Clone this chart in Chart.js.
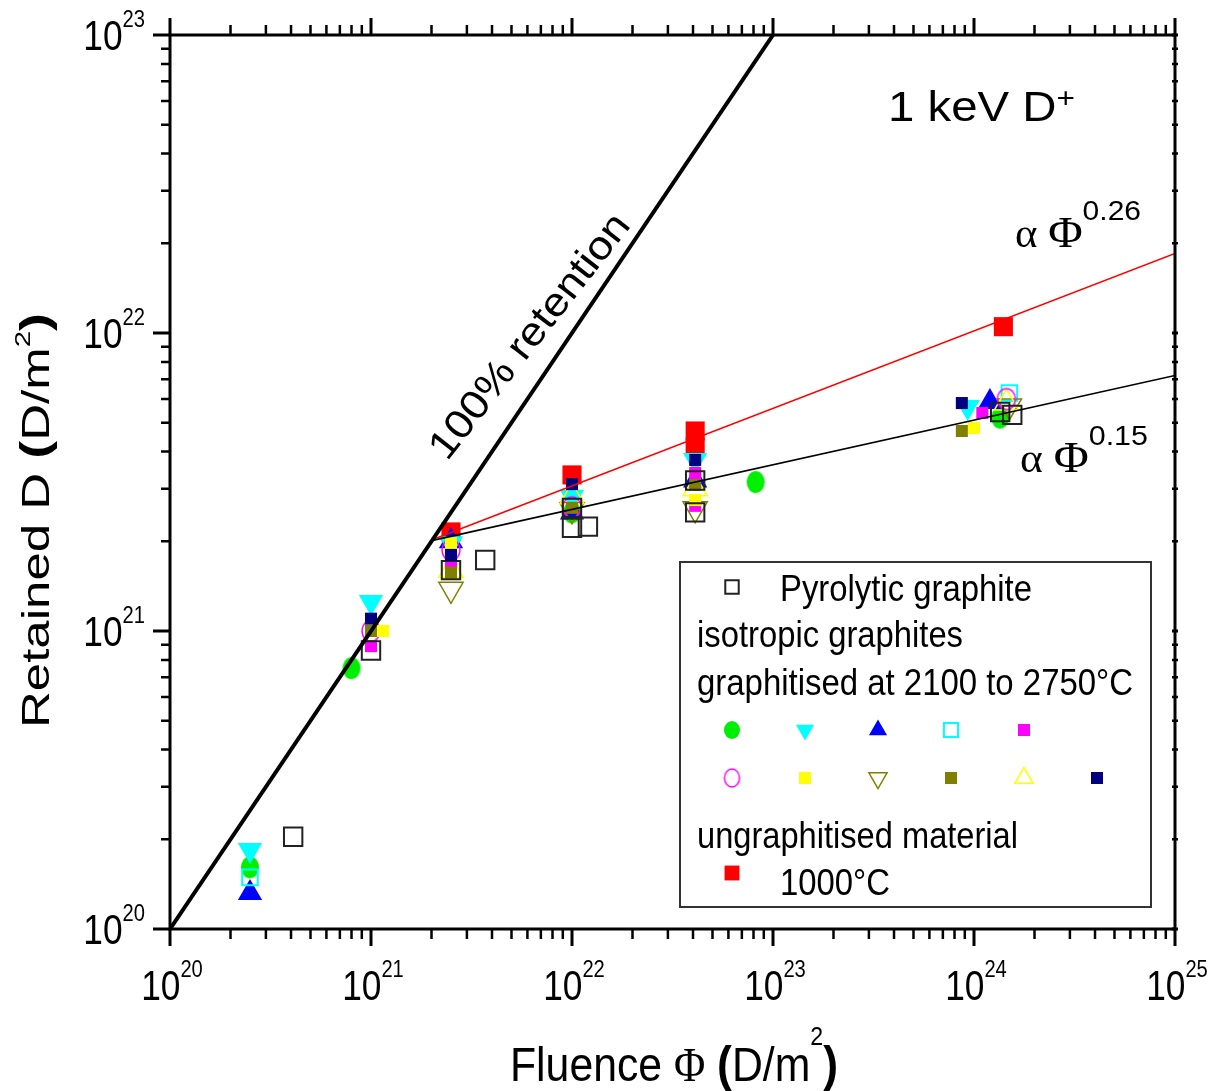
<!DOCTYPE html>
<html>
<head>
<meta charset="utf-8">
<script src="https://cdn.jsdelivr.net/npm/chart.js@4.4.1/dist/chart.umd.min.js"></script>
<style>
  html, body { margin: 0; padding: 0; background: #fff; }
  canvas { display: block; }
</style>
</head>
<body>
<canvas id="chart" width="1209" height="1091"></canvas>
<script>
// ---- axis decades (tick labels are 10^exponent) ----
const xTickExponents = [20, 21, 22, 23, 24, 25];
const yTickExponents = [20, 21, 22, 23];

// ---- measured retention, [fluence D/m^2, retained D/m^2] ----
const pyrolyticGraphite = [[4.1e20, 2.04e20], [1.0e21, 8.6e20], [2.5e21, 1.6e21], [3.7e21, 1.73e21],
  [1.0e22, 2.59e21], [1.0e22, 2.22e21], [1.2e22, 2.24e21], [4.1e22, 3.2e21], [4.1e22, 2.5e21],
  [1.35e24, 5.43e21], [1.55e24, 5.31e21]];
const isoGreenCircle = [[2.5e20, 1.61e20], [8.0e20, 7.5e20], [1.0e22, 2.5e21], [8.2e22, 3.16e21], [1.35e24, 5.2e21]];
const isoCyanDown = [[2.5e20, 1.84e20], [1.0e21, 1.25e21], [2.5e21, 1.97e21], [1.0e22, 2.82e21], [4.1e22, 3.75e21], [9.3e23, 5.65e21]];
const isoBlueUp = [[2.5e20, 1.32e20], [2.5e21, 2.0e21], [1.0e22, 2.5e21], [4.1e22, 3.2e21], [1.2e24, 5.87e21]];
const isoCyanSquare = [[2.5e20, 1.49e20], [1.5e24, 6.29e21]];
const isoMagentaSquare = [[1.0e21, 8.9e20], [2.5e21, 1.69e21], [4.1e22, 3.39e21], [4.1e22, 2.63e21], [1.1e24, 5.39e21]];
const isoMagentaCircle = [[1.0e21, 1.0e21], [2.5e21, 1.87e21], [1.0e22, 2.6e21], [1.45e24, 6.0e21]];
const isoYellowSquare = [[1.15e21, 1.0e21], [2.5e21, 1.97e21], [4.1e22, 2.75e21], [1.0e24, 4.8e21]];
const isoOliveDown = [[2.5e21, 1.38e21], [1.0e22, 2.55e21], [4.1e22, 2.57e21], [1.5e24, 5.69e21]];
const isoOliveSquare = [[1.0e21, 1.0e21], [2.5e21, 1.57e21], [1.0e22, 2.59e21], [4.1e22, 3.09e21], [8.7e23, 4.69e21]];
const isoYellowUp = [[2.5e21, 1.6e21], [1.0e22, 2.82e21], [4.1e22, 3.0e21], [1.45e24, 5.82e21]];
const isoNavySquare = [[1.0e21, 1.1e21], [2.5e21, 1.8e21], [1.0e22, 3.11e21], [4.1e22, 3.75e21], [8.7e23, 5.82e21]];
const ungraphitised1000 = [[2.5e21, 2.15e21], [1.0e22, 3.34e21], [4.1e22, 4.69e21], [4.1e22, 4.14e21], [1.4e24, 1.05e22]];

// ---- reference lines (straight in log-log, given by end points) ----
const fullRetention = [[1e20, 1e20], [1e23, 1e23]];
const fitPow026 = [[2e21, 2.02e21], [1e25, 1.85e22]];
const fitPow015 = [[2e21, 2.01e21], [1e25, 7.2e21]];

const pts = arr => arr.map(([x, y]) => ({ x, y }));
const NONE = 'rgba(0,0,0,0)';

// slightly tall elliptic symbols, drawn once into small canvases
function ellipseImage(w, h, fill, stroke, lw) {
  const c = document.createElement('canvas');
  c.width = w + 4; c.height = h + 4;
  const g = c.getContext('2d');
  g.beginPath();
  g.ellipse(c.width / 2, c.height / 2, w / 2, h / 2, 0, 0, Math.PI * 2);
  if (fill) { g.fillStyle = fill; g.fill(); }
  if (stroke) { g.strokeStyle = stroke; g.lineWidth = lw; g.stroke(); }
  return c;
}
const greenDot = ellipseImage(18, 22, '#00ee00');
const greenDotSmall = ellipseImage(16, 18, '#00ee00');
const magentaRing = ellipseImage(18, 21, null, '#ff00ff', 1.5);
const magentaRingSmall = ellipseImage(15, 18, null, '#ff00ff', 1.5);

function markerSet(label, data, style, radius, fill, stroke, bw, rotation) {
  return {
    label, data: pts(data), showLine: false, order: 1,
    pointStyle: style, pointRadius: radius, pointHoverRadius: radius,
    pointRotation: rotation || 0,
    backgroundColor: fill, borderColor: stroke, borderWidth: bw
  };
}
function lineSet(label, data, color, width) {
  return {
    label, data: pts(data), showLine: true, order: -1,
    pointRadius: 0, borderColor: color, borderWidth: width, backgroundColor: color, tension: 0
  };
}

const markerSets = [
  markerSet('navy', isoNavySquare, 'rect', 8.5, '#000080', '#000080', 0),
  markerSet('pyrolytic', pyrolyticGraphite, 'rect', 13, NONE, '#222', 2),
  markerSet('olive sq', isoOliveSquare, 'rect', 8.5, '#808000', '#808000', 0),
  markerSet('yellow sq', isoYellowSquare, 'rect', 8.5, '#ffff00', '#ffff00', 0),
  markerSet('magenta sq', isoMagentaSquare, 'rect', 8.5, '#ff00ff', '#ff00ff', 0),
  markerSet('magenta circ', isoMagentaCircle, magentaRing, 10, NONE, '#ff00ff', 1.5),
  markerSet('yellow up', isoYellowUp, 'triangle', 14, NONE, '#ffff00', 1.5),
  markerSet('olive down', isoOliveDown, 'triangle', 14, NONE, '#808000', 1.5, 180),
  markerSet('cyan sq', isoCyanSquare, 'rect', 11, NONE, '#00ffff', 2),
  markerSet('cyan down', isoCyanDown, 'triangle', 14, '#00ffff', '#00ffff', 0, 180),
  markerSet('blue up', isoBlueUp, 'triangle', 14, '#0000ff', '#0000ff', 0),
  markerSet('green', isoGreenCircle, greenDot, 10, '#00ee00', '#00ee00', 0),
  markerSet('1000C', ungraphitised1000, 'rect', 13.5, '#ff0000', '#ff0000', 0)
];

// ---- text helpers ----
function fontOf(p) {
  return (p.bold ? 'bold ' : '') + p.size + 'px ' + (p.serif ? '"Liberation Serif", "DejaVu Serif", serif' : '"Liberation Sans", Arial, sans-serif');
}
function richText(ctx, parts, x, y, o) {
  o = o || {};
  ctx.save();
  ctx.translate(x, y);
  if (o.angle) ctx.rotate(o.angle * Math.PI / 180);
  let natural = 0;
  const widths = parts.map(p => { ctx.font = fontOf(p); const w = ctx.measureText(p.t).width; natural += w; return w; });
  const sx = o.width ? o.width / natural : (o.sx || 1);
  const total = natural * sx;
  let start = o.align === 'center' ? -total / 2 : o.align === 'right' ? -total : 0;
  ctx.scale(sx, 1);
  let cx = start / sx;
  ctx.fillStyle = o.color || '#000';
  ctx.textAlign = 'left';
  ctx.textBaseline = 'alphabetic';
  parts.forEach((p, i) => { ctx.font = fontOf(p); ctx.fillText(p.t, cx, -(p.rise || 0)); cx += widths[i]; });
  ctx.restore();
}
const sup10 = e => [{ t: '10', size: 42 }, { t: String(e), size: 24, rise: 23 }];

function drawMarker(ctx, ds, radius, x, y, image) {
  ctx.save();
  ctx.fillStyle = ds.backgroundColor;
  ctx.strokeStyle = ds.borderColor;
  ctx.lineWidth = ds.borderWidth;
  Chart.helpers.drawPoint(ctx, {
    pointStyle: image || ds.pointStyle, rotation: ds.pointRotation, radius, borderWidth: ds.borderWidth
  }, x, y);
  ctx.restore();
}

const decorations = {
  id: 'decorations',
  afterDraw(chart) {
    const { ctx, chartArea: a, scales: { x, y } } = chart;
    ctx.save();
    ctx.strokeStyle = '#000';
    ctx.lineCap = 'butt';

    // frame
    ctx.lineWidth = 3;
    ctx.strokeRect(a.left, a.top, a.right - a.left, a.bottom - a.top);

    // x ticks (bottom outward, top outward)
    const xMax = Math.pow(10, xTickExponents[xTickExponents.length - 1]);
    for (let e = xTickExponents[0]; e <= xTickExponents[xTickExponents.length - 1]; e++) {
      for (let m = 1; m <= 9; m++) {
        const v = m * Math.pow(10, e);
        if (v > xMax * 1.0001) break;
        const px = x.getPixelForValue(v);
        const major = m === 1;
        const len = major ? 17 : 10;
        ctx.lineWidth = major ? 3 : 2.5;
        ctx.beginPath();
        ctx.moveTo(px, a.bottom); ctx.lineTo(px, a.bottom + len);
        ctx.moveTo(px, a.top); ctx.lineTo(px, a.top - len);
        ctx.stroke();
      }
    }
    // y ticks (left outward, right short)
    const yMax = Math.pow(10, yTickExponents[yTickExponents.length - 1]);
    for (let e = yTickExponents[0]; e <= yTickExponents[yTickExponents.length - 1]; e++) {
      for (let m = 1; m <= 9; m++) {
        const v = m * Math.pow(10, e);
        if (v > yMax * 1.0001) break;
        const py = y.getPixelForValue(v);
        const major = m === 1;
        ctx.lineWidth = major ? 3 : 2.5;
        ctx.beginPath();
        ctx.moveTo(a.left, py); ctx.lineTo(a.left - (major ? 17 : 9), py);
        ctx.moveTo(a.right - 3, py); ctx.lineTo(a.right + 3, py);
        ctx.stroke();
      }
    }

    // tick labels
    xTickExponents.forEach(e => richText(ctx, sup10(e), x.getPixelForValue(Math.pow(10, e)) + 2, a.bottom + 71, { align: 'center', sx: 0.84 }));
    yTickExponents.forEach(e => richText(ctx, sup10(e), 145, y.getPixelForValue(Math.pow(10, e)) + 15, { align: 'right', sx: 0.84 }));

    // axis titles
    richText(ctx, [
      { t: 'Fluence ', size: 48 }, { t: 'Φ', size: 48, serif: true }, { t: ' ', size: 48 },
      { t: '(', size: 50, bold: true }, { t: 'D/m', size: 48 }, { t: '2', size: 26, rise: 36 }, { t: ')', size: 50, bold: true }
    ], 510, 1081, { width: 328 });
    richText(ctx, [
      { t: 'Retained D ', size: 38 }, { t: '(', size: 40, bold: true }, { t: 'D/m', size: 38 },
      { t: '2', size: 22, rise: 19 }, { t: ')', size: 40, bold: true }
    ], 49, 728, { angle: -90, width: 415 });

    // annotations
    richText(ctx, [{ t: '1 keV D', size: 42 }, { t: '+', size: 28, rise: 14 }], 888, 121, { width: 187 });
    richText(ctx, [{ t: 'α ', size: 40, serif: true }, { t: 'Φ', size: 44, serif: true }, { t: '0.26', size: 28, rise: 27 }], 1015, 247, { width: 126 });
    richText(ctx, [{ t: 'α ', size: 40, serif: true }, { t: 'Φ', size: 44, serif: true }, { t: '0.15', size: 28, rise: 27 }], 1020, 472, { width: 128 });
    richText(ctx, [{ t: '100% retention', size: 40 }], 447, 462, { angle: -52, width: 300 });

    // legend box
    ctx.fillStyle = '#fff';
    ctx.fillRect(680, 562, 471, 345);
    ctx.lineWidth = 2;
    ctx.strokeStyle = '#333';
    ctx.strokeRect(680, 562, 471, 345);

    const L = 36;
    richText(ctx, [{ t: 'Pyrolytic graphite', size: L }], 780, 601, { width: 252 });
    richText(ctx, [{ t: 'isotropic graphites', size: L }], 697, 647, { width: 266 });
    richText(ctx, [{ t: 'graphitised at 2100 to 2750°C', size: L }], 697, 695, { width: 436 });
    richText(ctx, [{ t: 'ungraphitised material', size: L }], 697, 848, { width: 321 });
    richText(ctx, [{ t: '1000°C', size: L }], 780, 895, { width: 110 });

    const byLabel = l => markerSets.find(d => d.label === l);
    drawMarker(ctx, byLabel('pyrolytic'), 9.5, 732, 587);
    const row1 = ['green', 'cyan down', 'blue up', 'cyan sq', 'magenta sq'];
    const row2 = ['magenta circ', 'yellow sq', 'olive down', 'olive sq', 'yellow up', 'navy'];
    const legendR = { 'green': 8.5, 'cyan down': 10.5, 'blue up': 10.5, 'cyan sq': 10, 'magenta sq': 8.5,
      'magenta circ': 8.5, 'yellow sq': 8.5, 'olive down': 10.5, 'olive sq': 8.5, 'yellow up': 10.5, 'navy': 8.5 };
    const legendImg = { 'green': greenDotSmall, 'magenta circ': magentaRingSmall };
    row1.forEach((l, i) => drawMarker(ctx, byLabel(l), legendR[l], 732 + i * 73, 730, legendImg[l]));
    row2.forEach((l, i) => drawMarker(ctx, byLabel(l), legendR[l], 732 + i * 73, 778, legendImg[l]));
    drawMarker(ctx, byLabel('1000C'), 10.5, 732, 873);

    ctx.restore();
  }
};

new Chart(document.getElementById('chart'), {
  type: 'scatter',
  data: {
    datasets: [
      lineSet('100% retention', fullRetention, '#000', 4),
      lineSet('Φ^0.26', fitPow026, '#ff0000', 1.6),
      lineSet('Φ^0.15', fitPow015, '#000', 1.6),
      ...markerSets
    ]
  },
  options: {
    responsive: false,
    animation: false,
    devicePixelRatio: 1,
    layout: { padding: { left: 170, right: 34, top: 35, bottom: 162 } },
    scales: {
      x: { type: 'logarithmic', min: 1e20, max: 1e25, display: false },
      y: { type: 'logarithmic', min: 1e20, max: 1e23, display: false }
    },
    plugins: { legend: { display: false }, tooltip: { enabled: false } },
    events: []
  },
  plugins: [decorations]
});
</script>
</body>
</html>
